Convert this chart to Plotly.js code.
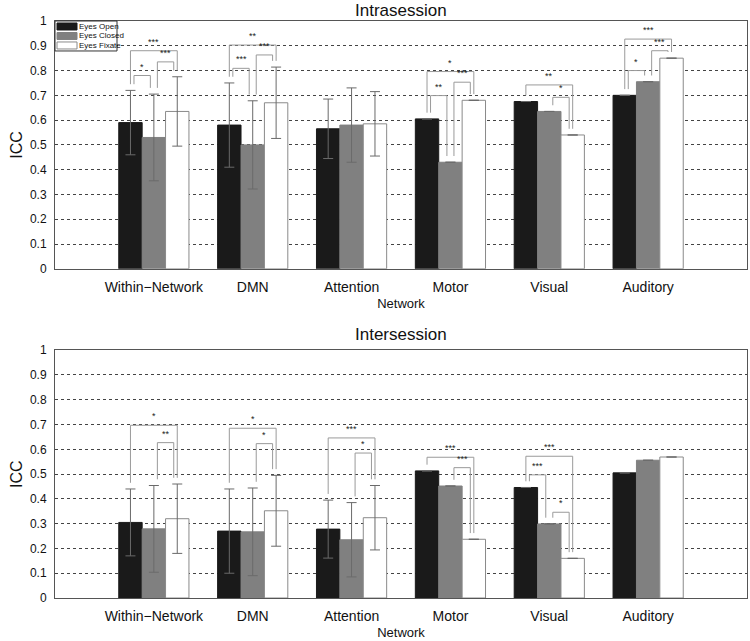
<!DOCTYPE html>
<html>
<head>
<meta charset="utf-8">
<script src="https://cdn.plot.ly/plotly-3.0.1.min.js"></script>
<style>html,body{margin:0;padding:0;background:#fff;}#chart{width:750px;height:641px;}</style>
</head>
<body>
<div id="chart"></div>
<script>
// ---------- data ----------
const networks = ["Within\u2212Network", "DMN", "Attention", "Motor", "Visual", "Auditory"];
const conditions = ["Eyes Open", "Eyes Closed", "Eyes Fixate"];

// Intrasession
const intraOpen    = [0.59, 0.58, 0.565, 0.605, 0.675, 0.70];
const intraClosed  = [0.53, 0.50, 0.58, 0.43, 0.635, 0.755];
const intraFixate  = [0.635, 0.67, 0.585, 0.68, 0.54, 0.85];
const intraOpenErr   = [0.13, 0.17, 0.12, null, null, null];
const intraClosedErr = [0.175, 0.178, 0.15, null, null, null];
const intraFixateErr = [0.14, 0.144, 0.13, null, null, null];

// Intersession
const interOpen    = [0.305, 0.27, 0.278, 0.513, 0.446, 0.505];
const interClosed  = [0.279, 0.267, 0.235, 0.452, 0.299, 0.556];
const interFixate  = [0.32, 0.352, 0.324, 0.237, 0.16, 0.569];
const interOpenErr   = [0.135, 0.17, 0.117, null, null, null];
const interClosedErr = [0.175, 0.177, 0.15, null, null, null];
const interFixateErr = [0.14, 0.143, 0.13, null, null, null];

// Significance brackets (network index, condition a, condition b, bracket level, stars)
const intraSigNet   = [0, 0, 0, 1, 1, 1, 3, 3, 3, 4, 4, 5, 5, 5];
const intraSigA     = [0, 1, 0, 0, 1, 0, 0, 1, 0, 0, 1, 0, 1, 0];
const intraSigB     = [1, 2, 2, 1, 2, 2, 1, 2, 2, 2, 2, 1, 2, 2];
const intraSigLevel = [0.78, 0.835, 0.88, 0.809, 0.863, 0.903, 0.699, 0.753, 0.796, 0.742, 0.692, 0.80, 0.88, 0.927];
const intraSigStars = ["*", "***", "***", "***", "***", "**", "**", "***", "*", "**", "*", "*", "***", "***"];

const interSigNet   = [0, 0, 1, 1, 2, 2, 3, 3, 4, 4, 4];
const interSigA     = [0, 1, 0, 1, 0, 1, 0, 1, 0, 0, 1];
const interSigB     = [2, 2, 2, 2, 2, 2, 2, 2, 2, 1, 2];
const interSigLevel = [0.697, 0.627, 0.685, 0.623, 0.646, 0.585, 0.568, 0.526, 0.572, 0.497, 0.346];
const interSigStars = ["*", "**", "*", "*", "***", "*", "***", "***", "***", "***", "*"];

// ---------- styling / layout constants ----------
const FONT = "Liberation Sans, Arial, sans-serif";
const colors = ["#1a1a1a", "#808080", "#ffffff"];
const edgeColors = ["#1a1a1a", "#808080", "#8a8a8a"];
const BARGAP = 0.29;
const groupW = 1 - BARGAP;
const barW = groupW / 3;
const xPos = networks.map((_, i) => i + 1);

const W = 750, H = 641;
const M = { l: 55, r: 3, t: 21, b: 42.5 };
const plotW = W - M.l - M.r, plotH = H - M.t - M.b;
const px = sx => (sx - M.l) / plotW;          // screen x -> paper x
const py = sy => (H - M.b - sy) / plotH;      // screen y -> paper y

function barTraces(vals, errs, xa, ya) {
  return vals.map((v, k) => ({
    type: "bar",
    name: conditions[k],
    x: xPos,
    y: v,
    xaxis: xa, yaxis: ya,
    showlegend: false,
    marker: { color: colors[k], line: { color: edgeColors[k], width: 1 } },
    error_y: { type: "data", array: errs[k], visible: true, color: "#6a6a6a", thickness: 1, width: 5 },
    hoverinfo: "skip"
  }));
}

const traces = []
  .concat(barTraces([intraOpen, intraClosed, intraFixate], [intraOpenErr, intraClosedErr, intraFixateErr], "x", "y"))
  .concat(barTraces([interOpen, interClosed, interFixate], [interOpenErr, interClosedErr, interFixateErr], "x2", "y2"));

const shapes = [];
const annotations = [];

function addBrackets(netArr, aArr, bArr, lvlArr, starArr, vals, errs, xr, yr) {
  const GAP = 0.025;
  for (let i = 0; i < netArr.length; i++) {
    const n = netArr[i], a = aArr[i], b = bArr[i], lvl = lvlArr[i];
    const inner = (b - a) === 1;
    const off = inner ? 0.15 * barW : 0;
    const xa = xPos[n] + (a - 1) * barW + off;
    const xb = xPos[n] + (b - 1) * barW - off;
    const ya = vals[a][n] + (errs[a][n] || 0) + GAP;
    const yb = vals[b][n] + (errs[b][n] || 0) + GAP;
    const line = { color: "#9a9a9a", width: 1 };
    shapes.push({ type: "line", xref: xr, yref: yr, x0: xa, x1: xa, y0: ya, y1: lvl, line });
    shapes.push({ type: "line", xref: xr, yref: yr, x0: xa, x1: xb, y0: lvl, y1: lvl, line });
    shapes.push({ type: "line", xref: xr, yref: yr, x0: xb, x1: xb, y0: lvl, y1: yb, line });
    annotations.push({
      xref: xr, yref: yr, x: (xa + xb) / 2, y: lvl, yanchor: "bottom", yshift: 2,
      text: starArr[i], showarrow: false, font: { family: FONT, size: 9, color: "#222" }
    });
  }
}

addBrackets(intraSigNet, intraSigA, intraSigB, intraSigLevel, intraSigStars,
  [intraOpen, intraClosed, intraFixate], [intraOpenErr, intraClosedErr, intraFixateErr], "x", "y");
addBrackets(interSigNet, interSigA, interSigB, interSigLevel, interSigStars,
  [interOpen, interClosed, interFixate], [interOpenErr, interClosedErr, interFixateErr], "x2", "y2");

// Compact legend box (top-left of the upper panel)
const LG = { x0: 55, y0: 21, x1: 117, rowH: 9.5, swW: 20, swH: 7 };
shapes.push({ type: "rect", xref: "paper", yref: "paper",
  x0: px(LG.x0), x1: px(LG.x1), y0: py(LG.y0), y1: py(LG.y0 + 3 * LG.rowH + 1.5),
  fillcolor: "#fff", line: { color: "#333", width: 1 } });
conditions.forEach((c, k) => {
  const cy = LG.y0 + 5.5 + k * LG.rowH;
  shapes.push({ type: "rect", xref: "paper", yref: "paper",
    x0: px(LG.x0 + 2), x1: px(LG.x0 + 2 + LG.swW), y0: py(cy - LG.swH / 2), y1: py(cy + LG.swH / 2),
    fillcolor: colors[k], line: { color: edgeColors[k], width: 1 } });
  annotations.push({ xref: "paper", yref: "paper", x: px(LG.x0 + 3 + LG.swW), y: py(cy),
    xanchor: "left", yanchor: "middle", showarrow: false, text: c, borderpad: 0,
    font: { family: FONT, size: 8, color: "#111" } });
});

// Subplot titles
annotations.push({ xref: "paper", yref: "paper", x: 0.5, y: py(10), yanchor: "middle", showarrow: false,
  text: "Intrasession", font: { family: FONT, size: 17, color: "#111" } });
annotations.push({ xref: "paper", yref: "paper", x: 0.5, y: py(335), yanchor: "middle", showarrow: false,
  text: "Intersession", font: { family: FONT, size: 17, color: "#111" } });

function xAxis(anchor) {
  return {
    anchor: anchor, domain: [0, 1], range: [0, 7],
    tickmode: "array", tickvals: xPos, ticktext: networks,
    tickfont: { family: FONT, size: 14, color: "#111" },
    showgrid: false, zeroline: false, showline: true, mirror: true, linecolor: "#555", linewidth: 1,
    ticks: "", ticklabelstandoff: 5,
    title: { text: "Network", font: { family: FONT, size: 13, color: "#111" }, standoff: 5 }
  };
}
function yAxis(anchor, domain) {
  return {
    anchor: anchor, domain: domain, range: [0, 1], dtick: 0.1, tick0: 0,
    tickfont: { family: FONT, size: 12, color: "#111" },
    showgrid: true, gridcolor: "#444", griddash: "dot", gridwidth: 1,
    zeroline: false, showline: true, mirror: true, linecolor: "#555", linewidth: 1,
    ticks: "", ticklabelstandoff: 5,
    title: { text: "ICC", font: { family: FONT, size: 16, color: "#111" }, standoff: 3 }
  };
}

const layout = {
  width: W, height: H,
  margin: M,
  paper_bgcolor: "#fff", plot_bgcolor: "#fff",
  barmode: "group", bargap: BARGAP, bargroupgap: 0,
  font: { family: FONT, color: "#111" },
  showlegend: false,
  xaxis: xAxis("y"),
  yaxis: yAxis("x", [py(269), 1]),
  xaxis2: xAxis("y2"),
  yaxis2: yAxis("x2", [0, py(350.5)]),
  shapes: shapes,
  annotations: annotations
};

Plotly.newPlot("chart", traces, layout, { staticPlot: true, displayModeBar: false });
</script>
</body>
</html>
